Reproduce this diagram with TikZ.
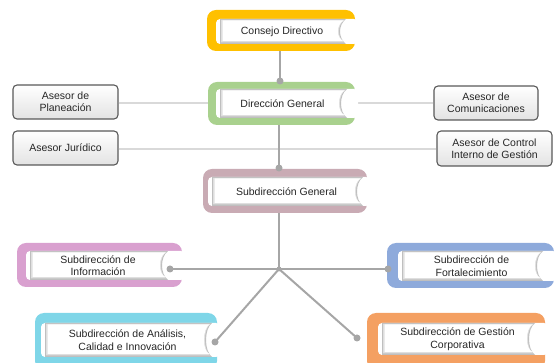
\documentclass[tikz,border=0pt]{standalone}
\usepackage{fontspec}
\setmainfont{Liberation Sans}
\definecolor{cGold}{HTML}{FFC000}
\definecolor{cGreen}{HTML}{A9D18E}
\definecolor{cMauve}{HTML}{C9ABB4}
\definecolor{cOrchid}{HTML}{D9A0CF}
\definecolor{cBlue}{HTML}{8EAADB}
\definecolor{cCyan}{HTML}{7FD6E8}
\definecolor{cOrange}{HTML}{F4A062}
\definecolor{lineGray}{HTML}{A6A6A6}
\definecolor{asesorLine}{HTML}{D9D9D9}
\definecolor{txt}{HTML}{262626}
\tikzset{
  x=1pt, y=-1pt,
  framebox/.style={draw=none, rounded corners=9pt, inner sep=0pt},
  lbl/.style={font=\fontsize{10.5}{12.5}\selectfont, align=center, text=txt, inner sep=0pt},
  asesor/.style={draw=gray!70!black, line width=1.1pt, rounded corners=4pt,
    top color=white, bottom color=gray!22, inner sep=0pt,
    font=\fontsize{10.5}{12.5}\selectfont, align=center, text=txt},
  asline/.style={draw=asesorLine, line width=2.2pt},
  conn/.style={draw=lineGray, line width=2pt},
  bigdot/.style={circle, fill=lineGray, inner sep=0pt, minimum size=7pt},
  smalldot/.style={circle, fill=lineGray, inner sep=0pt, minimum size=5pt},
}
% frame: name x1 y1 x2 y2 color
\newcommand\orgframe[6]{%
  \pgfmathsetmacro\fcx{(#2+#4)/2}\pgfmathsetmacro\fcy{(#3+#5)/2}%
  \pgfmathsetmacro\fw{#4-#2}\pgfmathsetmacro\fh{#5-#3}%
  \node[framebox, fill=#6, minimum width=\fw pt, minimum height=\fh pt] (#1) at (\fcx,\fcy) {};%
}
% inner: name x1 y1 x2 y2 frameRight text
\newcommand\orginner[7]{%
  \fill[white, rounded corners=4pt] (#2-4,#3) rectangle (#6+3,#5);
  \fill[gray!50] (#2,#3) -- (#4,#3) .. controls (#4-8,#3+6) and (#4-8,#5-6) .. (#4,#5) -- (#2,#5) -- cycle;
  \fill[gray!25] (#2+1,#3+0.8) -- (#4-1.5,#3+0.8) .. controls (#4-9,#3+6) and (#4-9,#5-6) .. (#4-1.5,#5-1.5) -- (#2+1,#5-1.5) -- cycle;
  \fill[white] (#2+2.5,#3+1.5) -- (#4-2.5,#3+1.5) .. controls (#4-10,#3+6) and (#4-10,#5-6) .. (#4-2.5,#5-3) -- (#2+2.5,#5-3) -- cycle;
  \pgfmathsetmacro\icx{(#2+#4)/2-1}\pgfmathsetmacro\icy{(#3+#5)/2}%
  \node[lbl] (#1) at (\icx,\icy) {#7};%
}
\begin{document}
\begin{tikzpicture}
\useasboundingbox (0,0) rectangle (555,363);
% asesor boxes
\node[asesor, minimum width=105pt, minimum height=34pt] (plan) at (65.5,102) {Asesor de\\Planeación};
\node[asesor, minimum width=105pt, minimum height=34pt] (jur) at (65.5,148) {Asesor Jurídico};
\node[asesor, minimum width=104pt, minimum height=34pt] (com) at (486,103) {Asesor de\\Comunicaciones};
\node[asesor, minimum width=115pt, minimum height=35pt] (ctrl) at (494.5,148.5) {Asesor de Control\\Interno de Gestión};
% asesor lines (behind)
\coordinate (planR) at (plan.east |- 0,103);
\coordinate (comL) at (com.west |- 0,103);
\coordinate (jurR) at (jur.east |- 0,149);
\coordinate (ctrlL) at (ctrl.west |- 0,149);
\draw[asline] (planR) -- (comL);
\draw[asline] (jurR) -- (ctrlL);
% frames
\orgframe{cdf}{207}{10}{355}{51}{cGold}
\orgframe{dgf}{208}{82}{355}{125}{cGreen}
\orgframe{sgf}{203}{169}{367}{213}{cMauve}
\orgframe{inff}{17}{243}{182}{287}{cOrchid}
\orgframe{forf}{387}{243}{554}{288}{cBlue}
\orgframe{anaf}{35}{313}{217}{370}{cCyan}
\orgframe{gesf}{367}{313}{545}{370}{cOrange}
% inner boxes
\orginner{cd}{220}{19}{346}{44}{355}{Consejo Directivo}
\orginner{dg}{220}{89}{347}{118}{355}{Dirección General}
\orginner{sg}{212}{177}{363}{206}{367}{Subdirección General}
\orginner{inf}{30}{251}{168}{280}{182}{Subdirección de\\Información}
\orginner{for}{402}{251}{543}{281}{554}{Subdirección de\\Fortalecimiento}
\orginner{ana}{45}{323}{212}{357}{217}{Subdirección de Análisis,\\Calidad e Innovación}
\orginner{ges}{382}{323}{535}{355}{545}{Subdirección de Gestión\\Corporativa}
% connector points
\coordinate (cdB) at (cdf.south -| 280,0);
\coordinate (dgT) at (280,81);
\coordinate (dgB) at (dgf.south -| 279,0);
\coordinate (sgT) at (279,168);
\coordinate (sgB) at (sgf.south -| 279,0);
\coordinate (jn) at (279,269);
\coordinate (infR) at (170,269);
\coordinate (forL) at (388,269);
\coordinate (anaR) at (215,342);
\coordinate (gesL) at (357,338);
% connectors
\draw[conn] (cdB) -- (dgT);
\node[bigdot] (d1) at (dgT) {};
\draw[conn] (dgB) -- (sgT);
\node[bigdot] (d2) at (sgT) {};
\draw[conn] (sgB) -- (jn);
\draw[conn] (infR) -- (forL);
\draw[conn] (jn) -- (anaR);
\draw[conn] (jn) -- (gesL);
\node[smalldot] (d3) at (jn) {};
\node[bigdot] (d4) at (infR) {};
\node[bigdot] (d5) at (forL) {};
\node[bigdot] (d6) at (anaR) {};
\node[bigdot] (d7) at (gesL) {};
\end{tikzpicture}
\end{document}
